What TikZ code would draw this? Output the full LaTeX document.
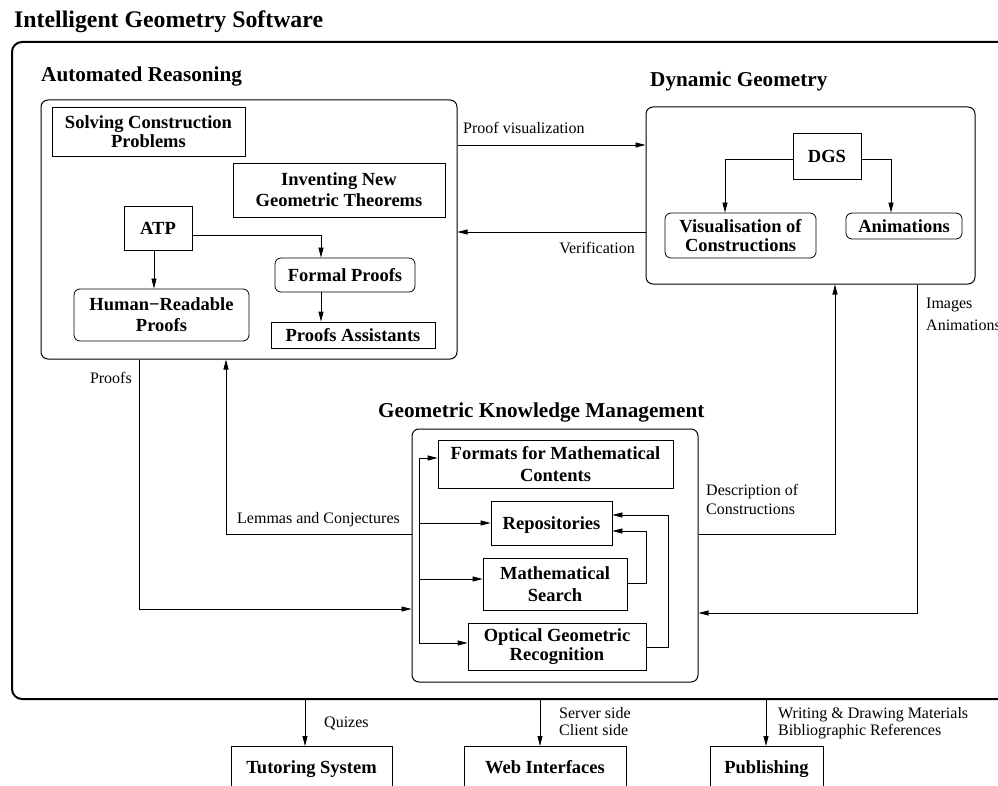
\documentclass[tikz,border=0pt]{standalone}
\usepackage{fontspec}
\setmainfont{Liberation Serif}
\usetikzlibrary{arrows.meta,calc}
\begin{document}
\begin{tikzpicture}[x=1pt,y=-1pt,
  bx/.style={draw, line width=0.8pt, inner sep=0pt, align=center, font=\fontsize{18.5}{20.5}\selectfont\bfseries},
  one/.style={text height=12.5pt, text depth=0pt},
  rbx/.style={bx, rounded corners=6pt},
  grp/.style={draw, line width=1pt, rounded corners=7pt, inner sep=0pt},
  lbl/.style={font=\fontsize{16}{19}\selectfont, inner sep=0pt},
  hd/.style={font=\fontsize{21.2}{24}\selectfont\bfseries, inner sep=0pt},
  arr/.style={line width=0.8pt, -{Triangle[length=10pt,width=5pt]}},
  ln/.style={line width=0.8pt},
  bot/.style={bx, anchor=north, text height=27pt, text depth=45pt},
]
\useasboundingbox (0,0) rectangle (998,786);
\clip (0,0) rectangle (998,786);

% outer frame
\node[draw, line width=2pt, rounded corners=10pt, inner sep=0pt, minimum width=998pt, minimum height=657pt] (outer) at (511,370.5) {};
\node[font=\fontsize{23.8}{26}\selectfont\bfseries, inner sep=0pt, anchor=base west] (title) at (14,28) {Intelligent Geometry Software};

% headings
\node[hd, anchor=base west] (hAR) at (41,82) {Automated Reasoning};
\node[hd, anchor=base west] (hDG) at (650,87) {Dynamic Geometry};
\node[hd, anchor=base west] (hGK) at (378,417) {Geometric Knowledge Management};

% Automated reasoning
\node[grp, minimum width=416pt, minimum height=259pt] (AR) at (249,229.5) {};
\node[bx, minimum width=193pt, minimum height=49pt, font=\fontsize{18.5}{19}\selectfont\bfseries] (solv) at (148.5,131.5) {Solving Construction\\Problems};
\node[bx, minimum width=212pt, minimum height=54pt, font=\fontsize{18.5}{21}\selectfont\bfseries] (inv) at (339,190) {Inventing New\\Geometric Theorems};
\node[bx, one, minimum width=68pt, minimum height=44pt] (ATP) at (158,228) {ATP};
\node[rbx, minimum width=175pt, minimum height=52pt, font=\fontsize{18.5}{21}\selectfont\bfseries] (HRP) at (161.5,315) {Human−Readable\\Proofs};
\node[rbx, one, minimum width=140pt, minimum height=34pt] (FP) at (345,275) {Formal Proofs};
\node[bx, one, minimum width=164pt, minimum height=26pt] (PA) at (353,335) {Proofs Assistants};

\draw[arr] ($(ATP.south)+(-4,0)$) -- ($(ATP.south |- HRP.north)+(-4,0)$);
\draw[arr] (ATP.east |- 0,235) -| (FP.north -| 321,0);
\draw[arr] (FP.south -| 321,0) -- (PA.north -| 321,0);

% Dynamic geometry
\node[grp, minimum width=329pt, minimum height=177pt] (DG) at (810.5,195.5) {};
\node[bx, one, minimum width=68pt, minimum height=46pt] (DGS) at (827,156) {DGS};
\node[rbx, minimum width=151pt, minimum height=45pt, font=\fontsize{18.5}{18.5}\selectfont\bfseries] (Vis) at (740.5,235.5) {Visualisation of\\Constructions};
\node[rbx, one, minimum width=116pt, minimum height=26pt] (Anim) at (904,226) {Animations};
\draw[arr] (DGS.west |- 0,159) -| (Vis.north -| 725,0);
\draw[arr] (DGS.east |- 0,159) -| (Anim.north -| 891,0);

% Geometric knowledge management
\node[grp, minimum width=286pt, minimum height=253pt] (GKM) at (555,555.5) {};
\node[bx, minimum width=235pt, minimum height=48pt, font=\fontsize{18.5}{22}\selectfont\bfseries] (Fmt) at (555.5,464) {Formats for Mathematical\\Contents};
\node[bx, one, minimum width=121pt, minimum height=44pt] (Rep) at (551.5,523) {Repositories};
\node[bx, minimum width=144pt, minimum height=52pt, font=\fontsize{18.5}{22}\selectfont\bfseries] (MS) at (555,584) {Mathematical\\Search};
\node[bx, minimum width=178pt, minimum height=47pt, font=\fontsize{18.5}{19}\selectfont\bfseries] (OGR) at (557,646.5) {Optical Geometric\\Recognition};

\coordinate (busb) at (419,643);
\draw[arr] (busb) |- (Fmt.west |- 0,458);
\draw[arr] (busb) -- (OGR.west |- busb);
\draw[arr] (busb |- 0,523) -- (Rep.west |- 0,523);
\draw[arr] (busb |- 0,579) -- (MS.west |- 0,579);
\draw[arr] (MS.east |- 0,583) -- ++(19,0) |- (Rep.east |- 0,531);
\draw[arr] (OGR.east |- 0,647) -- ++(22,0) |- (Rep.east |- 0,515);

% connectors between groups
\draw[arr] (AR.east |- 0,145) -- (DG.west |- 0,145);
\node[lbl, anchor=base west] (lpv) at (463,134) {Proof visualization};
\draw[arr] (DG.west |- 0,232) -- (AR.east |- 0,232);
\node[lbl, anchor=base east] (lver) at (635,254) {Verification};

\draw[arr] (AR.south -| 139,0) |- (GKM.west |- 0,609);
\node[lbl, anchor=base east] (lpr) at (132,383) {Proofs};
\draw[arr] (GKM.west |- 0,534) -| (AR.south -| 226,0);
\node[lbl, anchor=base west] (llc) at (237,523) {Lemmas and Conjectures};

\draw[arr] (GKM.east |- 0,534) -| (DG.south -| 835,0);
\node[lbl, anchor=base west] (ld1) at (706,495) {Description of};
\node[lbl, anchor=base west] (ld2) at (706,514) {Constructions};
\draw[arr] (DG.south -| 917,0) |- (GKM.east |- 0,613);
\node[lbl, anchor=base west] (li1) at (926,308) {Images};
\node[lbl, anchor=base west] (li2) at (926,330) {Animations};

% bottom applications
\node[bot, minimum width=161pt] (Tut) at (311.5,746) {Tutoring System};
\node[bot, minimum width=162pt] (Web) at (545,746) {Web Interfaces};
\node[bot, minimum width=113pt] (Pub) at (766.5,746) {Publishing};
\draw[arr] (outer.south -| 305,0) -- (Tut.north -| 305,0);
\draw[arr] (outer.south -| 540,0) -- (Web.north -| 540,0);
\draw[arr] (outer.south -| 766,0) -- (Pub.north -| 766,0);
\node[lbl, anchor=base west] (lq) at (324,727) {Quizes};
\node[lbl, anchor=base west] (ls1) at (559,718) {Server side};
\node[lbl, anchor=base west] (ls2) at (559,735) {Client side};
\node[lbl, anchor=base west] (lw1) at (778,718) {Writing \& Drawing Materials};
\node[lbl, anchor=base west] (lw2) at (778,735) {Bibliographic References};
\end{tikzpicture}
\end{document}
